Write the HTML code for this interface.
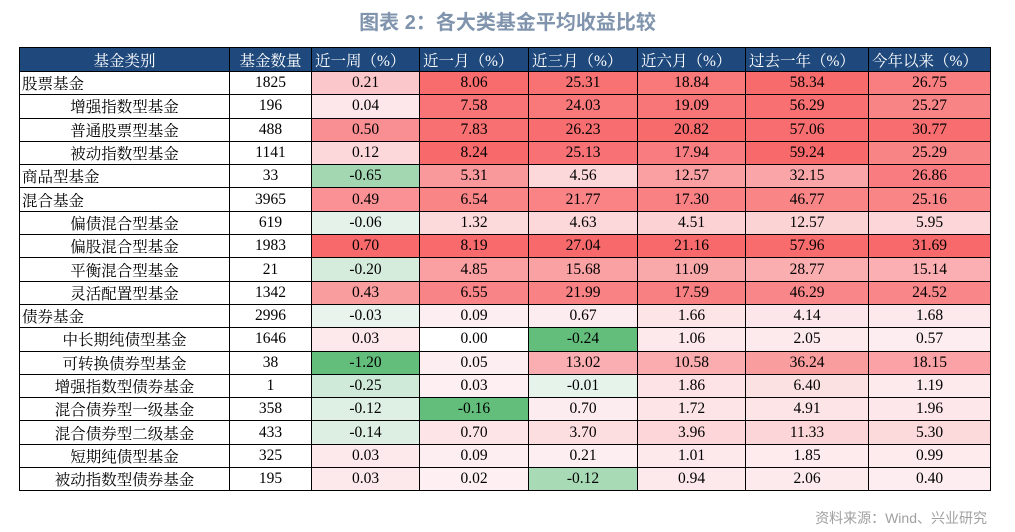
<!DOCTYPE html>
<html><head><meta charset="utf-8">
<style>
body{margin:0;width:1015px;height:532px;background:#fff;position:relative;overflow:hidden;font-family:"Liberation Serif","Noto Serif CJK SC",serif;}
#title{position:absolute;left:0;width:1015px;top:6px;text-align:center;font:bold 20px "Liberation Sans","Noto Sans CJK SC",sans-serif;color:#8094ad;}
#src{position:absolute;right:28px;top:508px;font:14px "Liberation Sans","Noto Sans CJK SC",sans-serif;color:#a0a0a0;}
table{position:absolute;left:19px;top:47px;border-collapse:collapse;table-layout:fixed;border:1.5px solid #000;}
td,th{border:1px solid #000;height:22.3px;padding:0;font-size:15.5px;text-align:center;white-space:nowrap;overflow:hidden;}
th{background:#1f497d;color:#fff;font-weight:normal;height:23px;}
th.l{text-align:left;padding-left:3px}
td.top{text-align:left;padding-left:2px}
</style></head><body>
<div id="title">图表 2：各大类基金平均收益比较</div>
<table id="tbl">
<colgroup><col style="width:210px"><col style="width:82px"><col style="width:108px"><col style="width:109px"><col style="width:109px"><col style="width:108px"><col style="width:123px"><col style="width:122px"></colgroup>
<thead><tr>
<th>基金类别</th>
<th>基金数量</th>
<th class="l">近一周（%）</th>
<th class="l">近一月（%）</th>
<th class="l">近三月（%）</th>
<th class="l">近六月（%）</th>
<th class="l">过去一年（%）</th>
<th class="l">今年以来（%）</th>
</tr></thead><tbody id="body"></tbody></table>
<div id="src">资料来源：Wind、兴业研究</div>
<script>
const categories=["股票基金","增强指数型基金","普通股票型基金","被动指数型基金","商品型基金","混合基金","偏债混合型基金","偏股混合型基金","平衡混合型基金","灵活配置型基金","债券基金","中长期纯债型基金","可转换债券型基金","增强指数型债券基金","混合债券型一级基金","混合债券型二级基金","短期纯债型基金","被动指数型债券基金"];
const topLevel=[1,0,0,0,1,1,0,0,0,0,1,0,0,0,0,0,0,0];
const counts=[1825,196,488,1141,33,3965,619,1983,21,1342,2996,1646,38,1,358,433,325,195];
const week=[0.21,0.04,0.50,0.12,-0.65,0.49,-0.06,0.70,-0.20,0.43,-0.03,0.03,-1.20,-0.25,-0.12,-0.14,0.03,0.03];
const month=[8.06,7.58,7.83,8.24,5.31,6.54,1.32,8.19,4.85,6.55,0.09,0.00,0.05,0.03,-0.16,0.70,0.09,0.02];
const threeMonth=[25.31,24.03,26.23,25.13,4.56,21.77,4.63,27.04,15.68,21.99,0.67,-0.24,13.02,-0.01,0.70,3.70,0.21,-0.12];
const sixMonth=[18.84,19.09,20.82,17.94,12.57,17.30,4.51,21.16,11.09,17.59,1.66,1.06,10.58,1.86,1.72,3.96,1.01,0.94];
const oneYear=[58.34,56.29,57.06,59.24,32.15,46.77,12.57,57.96,28.77,46.29,4.14,2.05,36.24,6.40,4.91,11.33,1.85,2.06];
const ytd=[26.75,25.27,30.77,25.29,26.86,25.16,5.95,31.69,15.14,24.52,1.68,0.57,18.15,1.19,1.96,5.30,0.99,0.40];
const series=[week,month,threeMonth,sixMonth,oneYear,ytd];
const seriesNames=["week","month","3m","6m","1y","ytd"];
function mix(a,b,t){return 'rgb('+a.map((x,i)=>Math.round(x+(b[i]-x)*t)).join(',')+')';}
function color(v,col){
  const mx=Math.max(...col),mn=Math.min(...col);
  if(v>0) return mix([253,239,242],[248,105,107],Math.min(1,v/mx));
  if(v<0) return mix([236,245,240],[99,190,123],Math.min(1,v/mn));
  return '#ffffff';
}
const body=document.getElementById('body');
categories.forEach((c,i)=>{
  const tr=document.createElement('tr');
  
  
  const td=document.createElement('td');
  
  
  td.textContent=c;
  if(topLevel[i]) td.className='top';
  tr.appendChild(td);
  const tc=document.createElement('td');
  
  
  tc.textContent=counts[i];
  tr.appendChild(tc);
  series.forEach((s,j)=>{
    const d=document.createElement('td');
    
    
    d.textContent=s[i].toFixed(2);
    d.style.background=color(s[i],s);
    tr.appendChild(d);
  });
  body.appendChild(tr);
});
</script>
</body></html>
